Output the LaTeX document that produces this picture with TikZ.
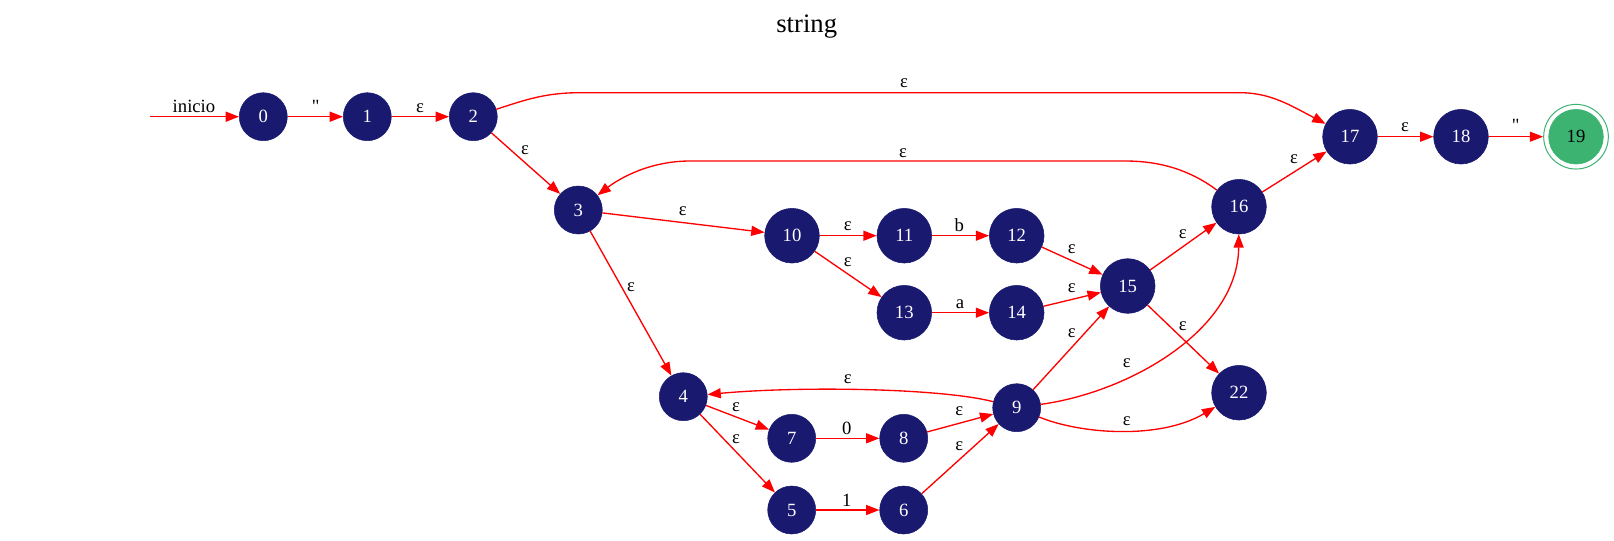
\documentclass[tikz,border=0pt]{standalone}
\usepackage{fontspec}
\setmainfont{Liberation Serif}
\newfontfamily\qfont{Liberation Serif}[Ligatures=TeXOff]
\usetikzlibrary{arrows.meta}
\definecolor{navy}{HTML}{191970}
\definecolor{sea}{HTML}{3CB371}
\begin{document}
\begin{tikzpicture}[x=0.75pt,y=-0.75pt,
  st/.style={circle,fill=navy,draw=navy,text=white,font=\fontsize{14}{16}\selectfont,inner sep=0pt,minimum size=36pt},
  st2/.style={st,minimum size=41pt},
  ed/.style={draw=red,line width=1pt,-{Triangle[length=10pt,width=7.5pt]}},
  lab/.style={anchor=base,font=\fontsize{14}{16}\selectfont,inner sep=0pt}]
\useasboundingbox (0,0) rectangle (1614,540);
\node[anchor=base,font=\fontsize{20}{24}\selectfont,inner sep=0pt] (title) at (806.7,32.7) {string};
% states
\coordinate (start) at (150,116.7);
\node[st] (n0) at (263.3,116.7) {0};
\node[st] (n1) at (367.3,116.7) {1};
\node[st] (n2) at (473.3,116.7) {2};
\node[st] (n3) at (578.3,210) {3};
\node[st] (n4) at (683.3,396.7) {4};
\node[st] (n5) at (791.7,510) {5};
\node[st] (n6) at (903.7,510) {6};
\node[st] (n7) at (791.7,438.3) {7};
\node[st] (n8) at (903.7,438.3) {8};
\node[st] (n9) at (1016.7,407.7) {9};
\node[st2] (n10) at (792,235.7) {10};
\node[st2] (n11) at (904.3,235.7) {11};
\node[st2] (n12) at (1016.7,235.7) {12};
\node[st2] (n13) at (904.3,312.7) {13};
\node[st2] (n14) at (1016.7,312.7) {14};
\node[st2] (n15) at (1127.7,286) {15};
\node[st2] (n16) at (1239,206.7) {16};
\node[st2] (n17) at (1350,136.7) {17};
\node[st2] (n18) at (1461,136.7) {18};
\node[st2,fill=sea,draw=sea,text=black] (n19) at (1576,136.7) {19};
\node[circle,draw=sea,line width=0.75pt,inner sep=0pt,minimum size=48.5pt] (n19o) at (1576,136.7) {};
\node[st2] (n22) at (1239,392.7) {22};
% edges
\draw[ed] (start) -- (n0);
\draw[ed] (n0) -- (n1);
\draw[ed] (n1) -- (n2);
\draw[ed] (n2) -- (n3);
\draw[ed] (n2) .. controls (525,100) and (545,92.7) .. (580,92.7) -- (1240,92.7) .. controls (1270,92.7) and (1290,105) .. (n17);
\draw[ed] (n16) .. controls (1190,170) and (1160,161) .. (1125,161) -- (690,161) .. controls (650,161) and (620,178) .. (n3);
\draw[ed] (n3) -- (n10);
\draw[ed] (n3) -- (n4);
\draw[ed] (n10) -- (n11);
\draw[ed] (n10) -- (n13);
\draw[ed] (n11) -- (n12);
\draw[ed] (n13) -- (n14);
\draw[ed] (n12) -- (n15);
\draw[ed] (n14) -- (n15);
\draw[ed] (n9) -- (n15);
\draw[ed] (n15) -- (n16);
\draw[ed] (n15) -- (n22);
\draw[ed] (n16) -- (n17);
\draw[ed] (n17) -- (n18);
\draw[ed] (n18) -- (n19o);
\draw[ed] (n4) -- (n7);
\draw[ed] (n4) -- (n5);
\draw[ed] (n7) -- (n8);
\draw[ed] (n5) -- (n6);
\draw[ed] (n8) -- (n9);
\draw[ed] (n6) -- (n9);
\draw[ed] (n9) .. controls (940,388) and (800,386) .. (n4);
\draw[ed] (n9) .. controls (1130,392) and (1238,330) .. (n16);
\draw[ed] (n9) .. controls (1080,434) and (1160,440) .. (n22);
% labels
\node[lab] (l0) at (194,112.3) {inicio};
\node[lab] (l1) at (315.7,112.6) {\qfont\symbol{34}};
\node[lab] (l2) at (420,112.3) {ε};
\node[lab] (l3) at (525,154.3) {ε};
\node[lab] (l4) at (904,87.7) {ε};
\node[lab] (l5) at (903,157) {ε};
\node[lab] (l6) at (682.7,215) {ε};
\node[lab] (l7) at (631,291.3) {ε};
\node[lab] (l8) at (847.7,230.3) {ε};
\node[lab] (l9) at (847.7,266) {ε};
\node[lab] (l10) at (959.3,231.7) {b};
\node[lab] (l11) at (960,308.3) {a};
\node[lab] (l12) at (1071.7,253.3) {ε};
\node[lab] (l13) at (1071.7,292.6) {ε};
\node[lab] (l14) at (1071.7,337.6) {ε};
\node[lab] (l15) at (1182.7,238.3) {ε};
\node[lab] (l16) at (1182.7,330.3) {ε};
\node[lab] (l17) at (1126.7,367) {ε};
\node[lab] (l18) at (1126.7,425) {ε};
\node[lab] (l19) at (1294,163.3) {ε};
\node[lab] (l20) at (1405,131.3) {ε};
\node[lab] (l21) at (1515.7,131.9) {\qfont\symbol{34}};
\node[lab] (l22) at (736,411) {ε};
\node[lab] (l23) at (736,443.6) {ε};
\node[lab] (l24) at (846.7,434) {0};
\node[lab] (l25) at (846.7,506) {1};
\node[lab] (l26) at (959.3,415.3) {ε};
\node[lab] (l27) at (959.3,450) {ε};
\node[lab] (l28) at (847.7,383.6) {ε};
\end{tikzpicture}
\end{document}
